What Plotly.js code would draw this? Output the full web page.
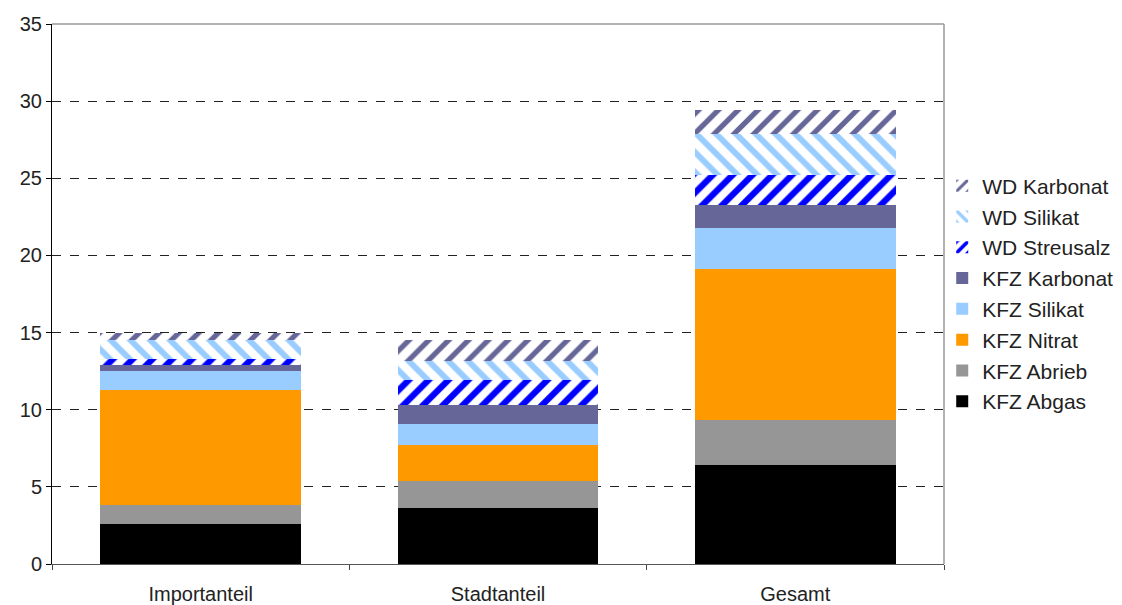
<!DOCTYPE html>
<html>
<head>
<meta charset="utf-8">
<script src="https://cdn.plot.ly/plotly-3.0.1.min.js"></script>
<style>html,body{margin:0;padding:0;background:#fff;}#chart{width:1122px;height:605px;}</style>
</head>
<body>
<div id="chart"></div>
<script>
const categories = ["Importanteil", "Stadtanteil", "Gesamt"];

const kfzAbgas      = [2.58, 3.66, 6.41];
const kfzAbrieb     = [1.23, 1.73, 2.92];
const kfzNitrat     = [7.49, 2.34, 9.76];
const kfzSilikat    = [1.23, 1.34, 2.68];
const kfzKarbonat   = [0.37, 1.25, 1.48];
const wdStreusalz   = [0.40, 1.61, 1.99];
const wdSilikat     = [1.20, 1.21, 2.60];
const wdKarbonat    = [0.45, 1.39, 1.56];

const seriesNames = ["KFZ Abgas","KFZ Abrieb","KFZ Nitrat","KFZ Silikat","KFZ Karbonat","WD Streusalz","WD Silikat","WD Karbonat"];
const seriesValues = [kfzAbgas,kfzAbrieb,kfzNitrat,kfzSilikat,kfzKarbonat,wdStreusalz,wdSilikat,wdKarbonat];
const seriesColors = ["#000000","#969696","#FF9900","#99CCFF","#666699","#0000FF","#99CCFF","#666699"];
const seriesPattern = ["","","","","","/","\\","/"];
const seriesSolidity = [0,0,0,0,0,0.45,0.42,0.38];

const traces = seriesNames.map((n,i) => {
  const marker = {line:{width:0}};
  if (seriesPattern[i]) {
    marker.color = "#FFFFFF";
    marker.pattern = {shape: seriesPattern[i], fgcolor: seriesColors[i], bgcolor: "#FFFFFF", fgopacity: 1,
                      size: 14, solidity: seriesSolidity[i], fillmode: "replace"};
  } else {
    marker.color = seriesColors[i];
  }
  return {type:"bar", name:n, x:categories, y:seriesValues[i], marker:marker,
          legendgroup:"g"+i, legendrank: seriesNames.length - i, hoverinfo:"name+y"};
});

const layout = {
  width:1122, height:605,
  margin:{l:52, r:178, t:24, b:41, autoexpand:false},
  barmode:"stack", bargap:0.325,
  paper_bgcolor:"#fff", plot_bgcolor:"#fff",
  font:{family:"Liberation Sans, Arial, sans-serif", size:20, color:"#222"},
  showlegend:true,
  legend:{x:0.998, xanchor:"left", y:0.738, yanchor:"top", traceorder:"grouped", tracegroupgap:0.5,
          font:{size:21, color:"#222"}, bgcolor:"rgba(0,0,0,0)", itemwidth:30},
  xaxis:{type:"category", showgrid:false, showline:true, linecolor:"#555", linewidth:1,
         ticks:"outside", tickson:"boundaries", ticklen:5, tickcolor:"#444", mirror:false,
         ticklabelstandoff:12, tickfont:{size:20}},
  yaxis:{range:[0,35], dtick:5, tick0:0, showgrid:true, gridcolor:"#222", griddash:"dash", gridwidth:1,
         showline:true, linecolor:"#000", linewidth:1, ticks:"outside", ticklen:5, tickcolor:"#000",
         zeroline:false, tickfont:{size:20}},
  shapes:[
    {type:"line", xref:"paper", yref:"paper", x0:0, x1:1, y0:1, y1:1, line:{color:"#999", width:1.5}},
    {type:"line", xref:"paper", yref:"paper", x0:1, x1:1, y0:0, y1:1, line:{color:"#999", width:1.5}}
  ]
};

Plotly.newPlot("chart", traces, layout, {displayModeBar:false, staticPlot:true});
</script>
</body>
</html>
